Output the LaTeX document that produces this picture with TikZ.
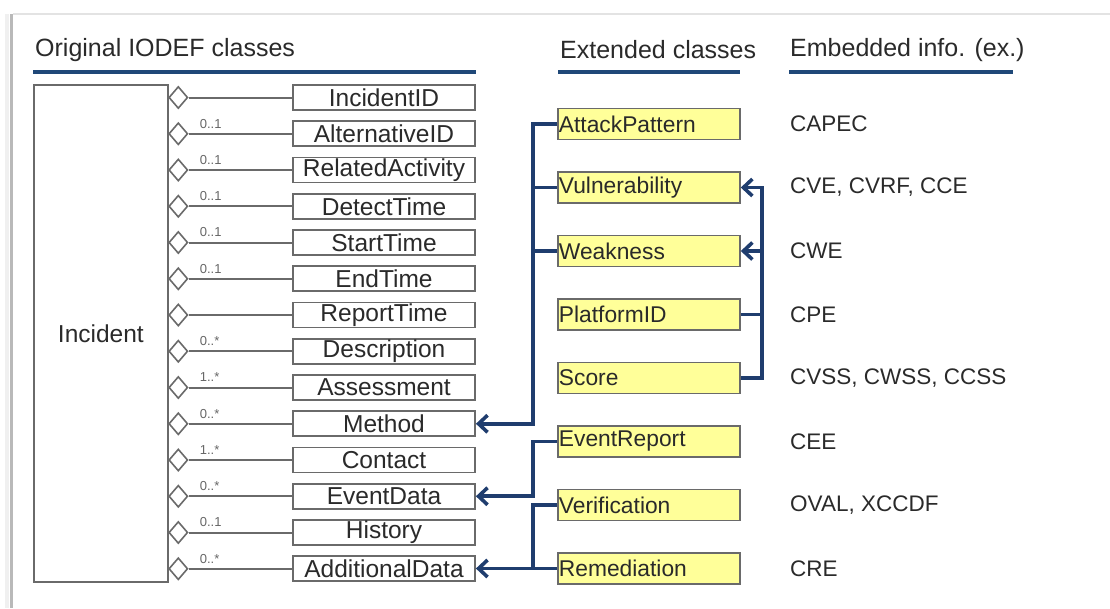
\documentclass[tikz,border=0pt]{standalone}
\usepackage{fontspec}
\setmainfont{Liberation Sans}
\usetikzlibrary{shapes.geometric,arrows.meta}
\definecolor{navy}{HTML}{1F3D6E}
\definecolor{hdr}{HTML}{1F4878}
\definecolor{boxgray}{HTML}{6A6A6A}
\definecolor{yel}{HTML}{FFFF99}
\definecolor{txt}{HTML}{2A2A2A}
\begin{document}
\begin{tikzpicture}[x=1pt,y=-1pt,
  hdrtext/.style={anchor=west,inner sep=0pt,font=\fontsize{25}{25}\selectfont,text=txt},
  hdrline/.style={draw=hdr,line width=3.8pt},
  cls/.style={draw=boxgray,line width=1.8pt,fill=white,minimum width=182pt,minimum height=25pt,inner sep=0pt,
     font=\fontsize{24.5}{24.5}\selectfont,text=txt},
  ext/.style={draw=boxgray,line width=1.8pt,fill=yel,anchor=west,minimum height=31pt,inner xsep=1pt,inner ysep=0pt,
     text width=180pt,align=left,font=\fontsize{22.8}{22.8}\selectfont,text=txt},
  info/.style={anchor=west,inner sep=0pt,font=\fontsize{22.5}{22.5}\selectfont,text=txt},
  dia/.style={diamond,draw=boxgray,line width=1.6pt,fill=white,minimum width=19pt,minimum height=22pt,inner sep=0pt,anchor=west},
  agg/.style={draw=boxgray,line width=2pt},
  mult/.style={inner sep=0pt,font=\fontsize{13}{13}\selectfont,text=black!60},
  conn/.style={draw=navy,line width=3.6pt},
  arr/.style={-{Straight Barb[length=9pt,width=17pt]}}
]
\useasboundingbox (0,0) rectangle (1110,608);
% frame
\draw[gray!12,line width=4pt] (7,14) -- (7,608);
\draw[gray!22,line width=1.2pt] (13,14) -- (1110,14);
\draw[gray!55,line width=2.5pt] (11.5,14) -- (11.5,608);

% headers
\node[hdrtext] (h1) at (35,50) {Original IODEF classes};
\node[hdrtext] (h2) at (560,50) {Extended classes};
\node[hdrtext] (h3) at (790,50) {Embedded info. (ex.)};
\draw[hdrline] (33,72) -- (476,72);
\draw[hdrline] (558,72) -- (740,72);
\draw[hdrline] (789,72) -- (1013,72);

% Incident
\node[draw=boxgray,line width=1.8pt,minimum width=134pt,minimum height=497pt,inner sep=0pt,anchor=north west,
  font=\fontsize{24.5}{24.5}\selectfont,text=txt] (inc) at (33,84) {Incident};

% original classes
\foreach \t [count=\i] in {IncidentID,AlternativeID,RelatedActivity,DetectTime,StartTime,EndTime,ReportTime,Description,Assessment,Method,Contact,EventData,History,AdditionalData}{
  \pgfmathsetmacro{\yy}{97.5+36.25*(\i-1)}
  \node[cls] (c\i) at (384,\yy) {\t};
  \node[dia] (d\i) at (168,\yy) {};
  \draw[agg] (d\i.east) -- (c\i.west);
}
\foreach \i/\m in {2/0..1,3/0..1,4/0..1,5/0..1,6/0..1,8/0..*,9/1..*,10/0..*,11/1..*,12/0..*,13/0..1,14/0..*}{
  \node[mult,anchor=west] (m\i) at ([xshift=11pt,yshift=10pt]d\i.east) {\m};
}

% extended classes
\foreach \t/\e [count=\i] in {AttackPattern/CAPEC,Vulnerability/{CVE, CVRF, CCE},Weakness/CWE,PlatformID/CPE,Score/{CVSS, CWSS, CCSS},EventReport/CEE,Verification/{OVAL, XCCDF},Remediation/CRE}{
  \pgfmathsetmacro{\yy}{124+63.5*(\i-1)}
  \node[ext] (e\i) at (557,\yy) {\t};
  \node[info] (x\i) at (790,\yy) {\e};
}

% connectors
\coordinate (b1) at (533,0);
\coordinate (b2) at (762,0);
\draw[conn,arr] (e1.west) -- (e1.west -| b1) -- (b1 |- c10.east) -- (c10.east);
\draw[conn] (e2.west) -- (e2.west -| b1);
\draw[conn] (e3.west) -- (e3.west -| b1);
\draw[conn,arr] (e6.west) -- (e6.west -| b1) -- (b1 |- c12.east) -- (c12.east);
\draw[conn] (e7.west) -- (e7.west -| b1) -- (b1 |- e8.west);
\draw[conn,arr] (e8.west) -- (e8.west -| c14.east);
\draw[conn,arr] (e5.east) -- (e5.east -| b2) -- (b2 |- e2.east) -- (e2.east);
\draw[conn] (e4.east) -- (e4.east -| b2);
\draw[conn,arr] (b2 |- e3.east) -- (e3.east);
\end{tikzpicture}
\end{document}
